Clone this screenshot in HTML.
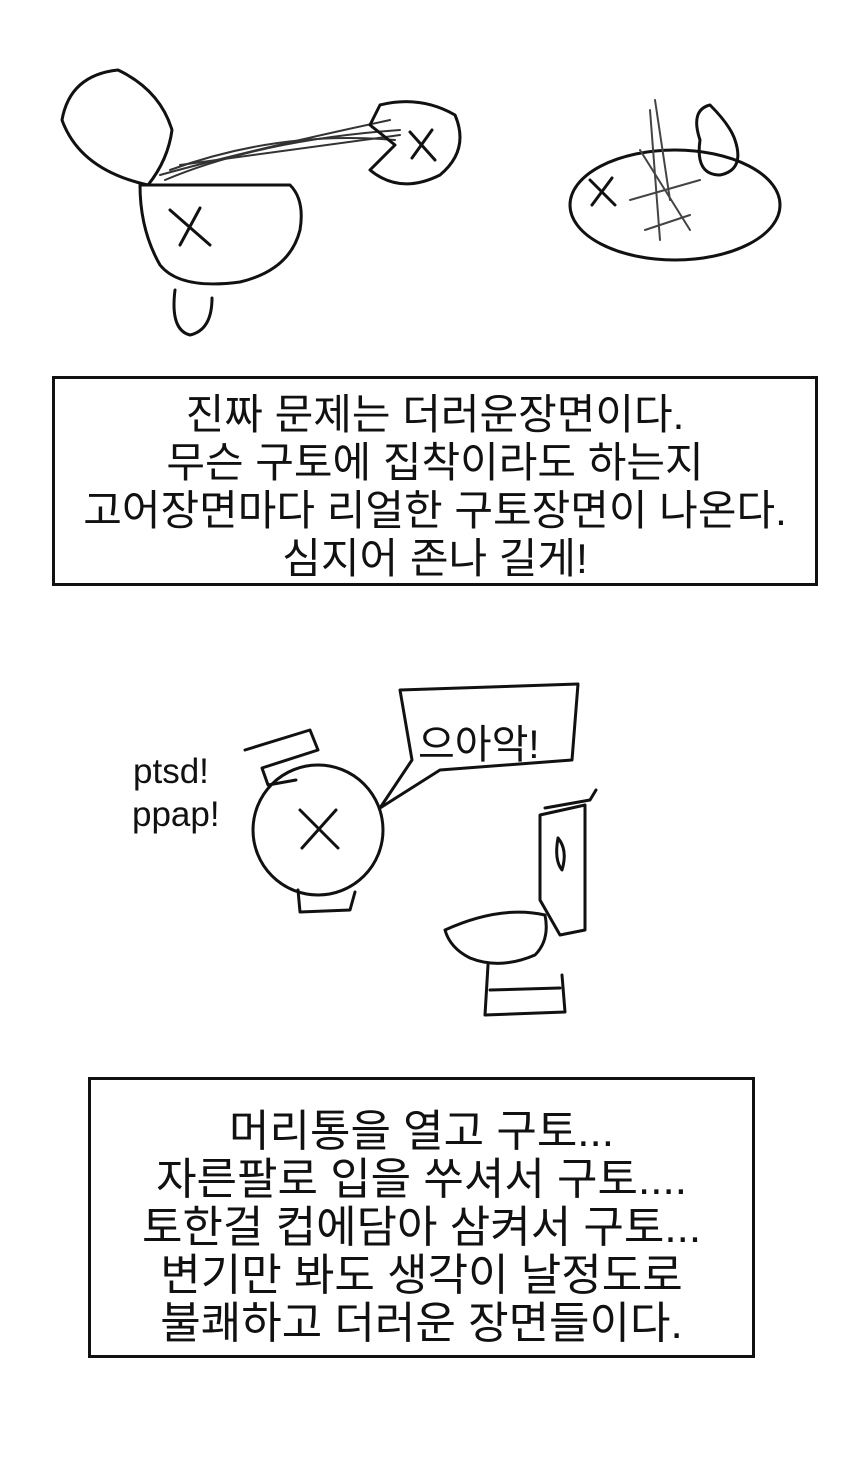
<!DOCTYPE html>
<html><head><meta charset="utf-8"><style>
body{margin:0;width:850px;height:1462px;background:#fff;position:relative;overflow:hidden;font-family:"Liberation Sans","Noto Sans CJK KR",sans-serif;color:#111}
.box{position:absolute;border:3px solid #111;box-sizing:border-box;text-align:center;line-height:48px;white-space:nowrap}
svg{position:absolute;left:0;top:0}
.t{position:absolute;font-size:35px}
</style></head><body>
<svg width="850" height="1462" fill="none" stroke="#111" stroke-width="3" stroke-linecap="round" stroke-linejoin="round">
<path d="M148 185 Q80 170 62 120 Q70 75 118 70 Q160 90 172 130 Q168 160 148 185"/>
<path d="M140 185 L290 185 Q305 200 300 230 Q290 270 240 282 Q180 290 160 265 Q140 230 140 185Z"/>
<path d="M170 210 L210 245 M200 208 L180 245"/>
<path d="M175 290 Q170 330 190 335 Q212 330 212 298"/>
<g stroke="#333" stroke-width="2"><path d="M165 180 Q260 140 400 130"/><path d="M170 170 Q280 130 395 140"/><path d="M160 175 Q250 150 390 120"/><path d="M180 165 Q290 150 400 135"/></g>
<path d="M380 105 Q420 95 455 115 Q470 150 440 175 Q400 195 370 170 L395 145 L370 125 Z"/>
<path d="M410 132 L435 160 M432 130 L412 158"/>
<ellipse cx="675" cy="205" rx="105" ry="55"/>
<path d="M590 180 L615 205 M612 178 L592 205"/>
<path d="M700 140 Q690 110 710 105 Q730 125 735 140 Q745 170 720 175 Q695 175 700 140"/>
<g stroke="#444" stroke-width="2"><path d="M650 110 L660 240 M640 150 L690 230 M630 200 L700 180 M645 230 L690 215 M655 100 L670 200"/></g>
<circle cx="318" cy="830" r="65"/>
<path d="M300 810 L338 848 M336 810 L302 848"/>
<path d="M245 750 L310 730 L318 750 L262 768 L268 785 L296 780"/>
<path d="M298 890 L300 912 L350 910 L355 892"/>
<path d="M400 690 L578 684 L572 760 L440 770 L380 808 L412 760 L400 690Z"/>
<path d="M540 815 L585 805 L585 930 L560 935 L540 900 Z"/>
<path d="M545 808 L590 800 L596 790"/>
<path d="M558 838 Q568 850 562 870 Q554 860 558 838"/>
<path d="M445 930 Q500 905 545 915 Q550 940 535 955 Q500 970 470 958 Q450 948 445 930Z"/>
<path d="M488 965 L485 1015 L565 1012 L562 975"/>
<path d="M490 990 L560 988"/>
</svg>
<div class="t" style="left:133px;top:752px">ptsd!</div>
<div class="t" style="left:132px;top:795px">ppap!</div>
<div class="t" style="left:418px;top:712px;font-size:40px">으아악!</div>
<div class="box" style="left:52px;top:376px;width:766px;height:210px;padding-top:12px;font-size:42px">진짜 문제는 더러운장면이다.<br>무슨 구토에 집착이라도 하는지<br>고어장면마다 리얼한 구토장면이 나온다.<br>심지어 존나 길게!</div>
<div class="box" style="left:88px;top:1077px;width:667px;height:281px;padding-top:28px;font-size:44px">머리통을 열고 구토...<br>자른팔로 입을 쑤셔서 구토....<br>토한걸 컵에담아 삼켜서 구토...<br>변기만 봐도 생각이 날정도로<br>불쾌하고 더러운 장면들이다.</div>
</body></html>
